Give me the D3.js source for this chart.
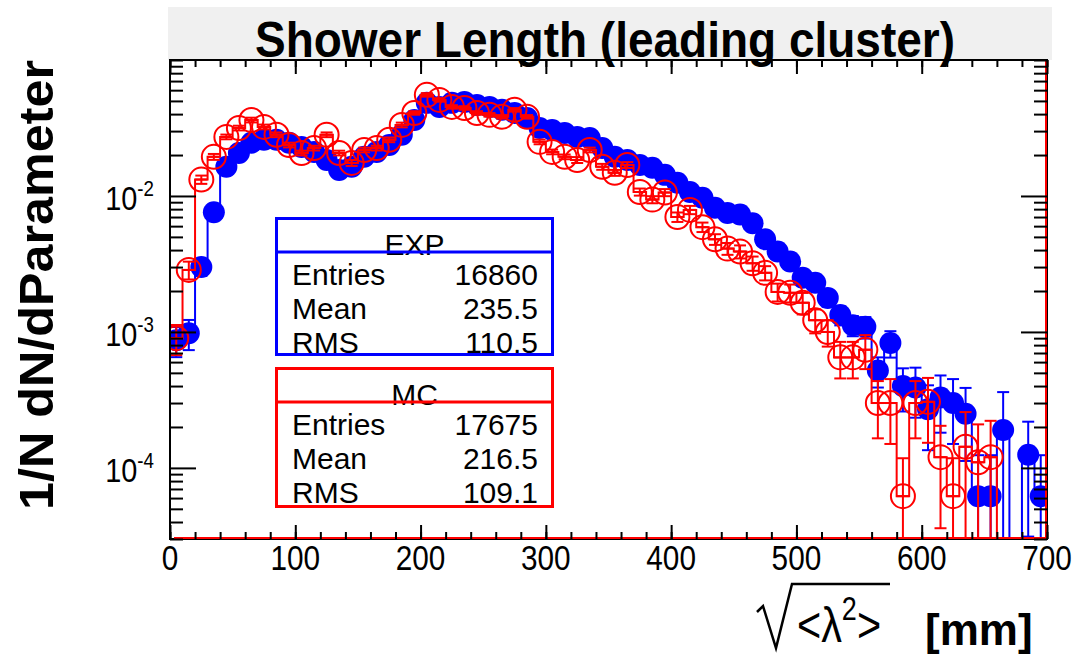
<!DOCTYPE html>
<html><head><meta charset="utf-8">
<script src="https://cdn.jsdelivr.net/npm/d3@7"></script>
<style>html,body{margin:0;padding:0;background:#fff;} svg{display:block;font-family:"Liberation Sans",Arial,Helvetica,sans-serif;}</style>
</head><body>
<svg id="c" width="1075" height="660"></svg>
<script>
// ---------- data ----------
const binCenters = [5,15,25,35,45,55,65,75,85,95,105,115,125,135,145,155,165,175,185,195,
  205,215,225,235,245,255,265,275,285,295,305,315,325,335,345,355,365,375,385,395,
  405,415,425,435,445,455,465,475,485,495,505,515,525,535,545,555,565,575,585,595,
  605,615,625,635,645,655,665,675,685,695];
const binWidth = 10;

const expValues = [8.7e-4,9.8e-4,3.0e-3,7.6e-3,1.64e-2,2.07e-2,2.46e-2,2.59e-2,2.59e-2,2.46e-2,
  2.29e-2,2.11e-2,1.84e-2,1.55e-2,1.64e-2,1.94e-2,2.11e-2,2.37e-2,2.82e-2,3.62e-2,
  4.84e-2,4.52e-2,4.84e-2,4.92e-2,4.67e-2,4.52e-2,4.30e-2,4.08e-2,3.75e-2,3.16e-2,
  3.06e-2,2.91e-2,2.72e-2,2.67e-2,2.25e-2,1.94e-2,1.84e-2,1.69e-2,1.61e-2,1.43e-2,
  1.25e-2,1.07e-2,9.7e-3,8.2e-3,7.5e-3,7.3e-3,6.3e-3,4.8e-3,3.9e-3,3.3e-3,
  2.5e-3,2.3e-3,1.78e-3,1.33e-3,1.12e-3,1.09e-3,5.2e-4,8.3e-4,4.0e-4,3.9e-4,
  2.7e-4,3.3e-4,3.0e-4,2.5e-4,6.2e-5,6.2e-5,1.9e-4,0,1.25e-4,6.2e-5];
const expRelErr = [0.25,0.25,0.14,0.09,0.05,0.05,0.04,0.04,0.04,0.04,
  0.04,0.04,0.05,0.05,0.05,0.05,0.04,0.04,0.04,0.04,
  0.03,0.03,0.03,0.03,0.03,0.03,0.03,0.04,0.04,0.04,
  0.04,0.04,0.04,0.04,0.05,0.05,0.05,0.05,0.05,0.05,
  0.06,0.06,0.06,0.07,0.07,0.07,0.08,0.09,0.10,0.10,
  0.12,0.12,0.14,0.16,0.17,0.18,0.25,0.22,0.35,0.40,
  0.50,0.45,0.50,0.55,1.00,1.00,0.90,0,0.75,1.00];

const mcValues = [9.0e-4,2.86e-3,1.32e-2,1.94e-2,2.72e-2,3.16e-2,3.62e-2,3.22e-2,2.82e-2,2.37e-2,
  2.07e-2,2.25e-2,2.82e-2,2.07e-2,1.75e-2,2.18e-2,2.25e-2,2.59e-2,3.33e-2,4.08e-2,
  5.54e-2,5.09e-2,4.52e-2,4.44e-2,4.08e-2,3.95e-2,3.82e-2,4.30e-2,3.82e-2,2.50e-2,
  2.11e-2,1.94e-2,1.84e-2,2.18e-2,1.64e-2,1.48e-2,1.69e-2,1.07e-2,9.4e-3,1.06e-2,
  7.0e-3,7.9e-3,5.9e-3,4.8e-3,4.1e-3,3.9e-3,3.2e-3,2.72e-3,1.97e-3,1.94e-3,
  1.64e-3,1.22e-3,1.0e-3,6.5e-4,6.5e-4,7.4e-4,3.0e-4,3.0e-4,6.2e-5,3.0e-4,
  3.06e-4,1.2e-4,6.2e-5,1.43e-4,1.1e-4,1.2e-4,0,0,0,0];
const mcRelErr = [0.25,0.15,0.07,0.05,0.04,0.04,0.04,0.04,0.04,0.04,
  0.04,0.04,0.04,0.04,0.05,0.04,0.04,0.04,0.04,0.03,
  0.03,0.03,0.03,0.03,0.03,0.03,0.03,0.03,0.03,0.04,
  0.04,0.04,0.05,0.04,0.05,0.05,0.05,0.06,0.06,0.06,
  0.08,0.07,0.08,0.09,0.10,0.11,0.12,0.12,0.15,0.15,
  0.18,0.20,0.22,0.30,0.30,0.28,0.45,0.50,0.90,0.45,
  0.50,0.70,0.90,0.80,0.90,0.85,0,0,0,0];

const xTickValues = [0,100,200,300,400,500,600,700];
const xMinorTicks = [0,20,40,60,80,100,120,140,160,180,200,220,240,260,280,300,320,340,360,380,
  400,420,440,460,480,500,520,540,560,580,600,620,640,660,680,700];
const yDecades = [1e-4,1e-3,1e-2];
const yDecadeExp = ["-4","-3","-2"];
const titleText = "Shower Length (leading cluster)";
const yTitle = "1/N dN/dParameter";
const expName = "EXP", mcName = "MC";
const expStats = [["Entries","16860"],["Mean","235.5"],["RMS","110.5"]];
const mcStats = [["Entries","17675"],["Mean","216.5"],["RMS","109.1"]];

// ---------- layout ----------
const L = 170, R = 1047, T = 60, B = 539;
const svg = d3.select("#c");
const x = d3.scaleLinear().domain([0,700]).range([L,R]);
const y = d3.scaleLog().domain([3e-5,0.1]).range([B,T]);
const yMin = y.domain()[0];
const BLUE = "#0000ff", RED = "#ff0000";

svg.append("rect").attr("x",0).attr("y",0).attr("width",1075).attr("height",660).attr("fill","#fff");
// title band
svg.append("rect").attr("x",168).attr("y",7).attr("width",884).attr("height",T-7).attr("fill","#f0f0f0");
svg.append("text").attr("x",605).attr("y",57).attr("text-anchor","middle")
  .attr("font-size",50).attr("font-weight","bold").attr("textLength",700).attr("lengthAdjust","spacingAndGlyphs")
  .text(titleText);

// clip
svg.append("clipPath").attr("id","plotclip").append("rect").attr("x",L).attr("y",T).attr("width",R-L).attr("height",B-T);
const plot = svg.append("g").attr("clip-path","url(#plotclip)");

function drawHist(vals, errs, color, filled){
  const g = plot.append("g");
  const pts = [];
  binCenters.forEach((c,i)=>{
    const yv = vals[i] > 0 ? y(Math.max(vals[i],yMin)) : B;
    pts.push([x(c-binWidth/2), yv],[x(c+binWidth/2), yv]);
  });
  g.append("path").attr("d", d3.line()(pts)).attr("fill","none").attr("stroke",color).attr("stroke-width",2);
  const cap = 6;
  binCenters.forEach((c,i)=>{
    const v = vals[i]; if(!(v>0)) return;
    const e = errs[i];
    const cx = x(c);
    const yh = y(v*(1+e));
    const lo = v*(1-e);
    const clamped = !(lo > yMin);
    const yl = clamped ? B : y(lo);
    g.append("line").attr("x1",cx).attr("x2",cx).attr("y1",yh).attr("y2",yl).attr("stroke",color).attr("stroke-width",2);
    g.append("line").attr("x1",cx-cap).attr("x2",cx+cap).attr("y1",yh).attr("y2",yh).attr("stroke",color).attr("stroke-width",2);
    if(!clamped) g.append("line").attr("x1",cx-cap).attr("x2",cx+cap).attr("y1",yl).attr("y2",yl).attr("stroke",color).attr("stroke-width",2);
    g.append("line").attr("x1",x(c-binWidth/2)).attr("x2",x(c+binWidth/2)).attr("y1",y(v)).attr("y2",y(v)).attr("stroke",color).attr("stroke-width",2);
  });
  binCenters.forEach((c,i)=>{
    const v = vals[i]; if(!(v>0)) return;
    if(filled) g.append("circle").attr("cx",x(c)).attr("cy",y(v)).attr("r",11).attr("fill",color);
    else g.append("circle").attr("cx",x(c)).attr("cy",y(v)).attr("r",12).attr("fill","none").attr("stroke",color).attr("stroke-width",2);
  });
}
drawHist(expValues, expRelErr, BLUE, true);
drawHist(mcValues, mcRelErr, RED, false);

// frame
svg.append("rect").attr("x",L).attr("y",T).attr("width",R-L).attr("height",B-T).attr("fill","none").attr("stroke","#000").attr("stroke-width",2);
svg.append("line").attr("x1",L+4).attr("x2",R).attr("y1",B-1).attr("y2",B-1).attr("stroke",RED).attr("stroke-width",2);
svg.append("line").attr("x1",R-1).attr("x2",R-1).attr("y1",T).attr("y2",B).attr("stroke",RED).attr("stroke-width",2);

// axes ticks (ROOT style, inward)
function styleAxis(g){ g.select(".domain").remove(); g.selectAll("line").attr("stroke","#000").attr("stroke-width",2); g.selectAll("text").remove(); }
const yMinor = y.ticks().filter(t => !yDecades.some(d => Math.abs(d-t)/d < 1e-6));
svg.append("g").attr("transform",`translate(0,${B})`).call(d3.axisBottom(x).tickValues(xTickValues).tickSize(-14).tickFormat("")).call(styleAxis);
svg.append("g").attr("transform",`translate(0,${B})`).call(d3.axisBottom(x).tickValues(xMinorTicks).tickSize(-7).tickFormat("")).call(styleAxis);
svg.append("g").attr("transform",`translate(0,${T})`).call(d3.axisTop(x).tickValues(xTickValues).tickSize(-14).tickFormat("")).call(styleAxis);
svg.append("g").attr("transform",`translate(0,${T})`).call(d3.axisTop(x).tickValues(xMinorTicks).tickSize(-7).tickFormat("")).call(styleAxis);
svg.append("g").attr("transform",`translate(${L},0)`).call(d3.axisLeft(y).tickValues(yDecades).tickSize(-26).tickFormat("")).call(styleAxis);
svg.append("g").attr("transform",`translate(${L},0)`).call(d3.axisLeft(y).tickValues(yMinor).tickSize(-13).tickFormat("")).call(styleAxis);
svg.append("g").attr("transform",`translate(${R},0)`).call(d3.axisRight(y).tickValues(yDecades).tickSize(-26).tickFormat("")).call(styleAxis);
svg.append("g").attr("transform",`translate(${R},0)`).call(d3.axisRight(y).tickValues(yMinor).tickSize(-13).tickFormat("")).call(styleAxis);

// tick labels (narrow, ROOT-like)
svg.append("g").selectAll("text").data(xTickValues).join("text")
  .attr("transform",d=>`translate(${x(d)},570) scale(0.85,1)`).attr("text-anchor","middle").attr("font-size",35).text(d=>d);
const yl = svg.append("g").selectAll("text").data(yDecades).join("text")
  .attr("transform",d=>`translate(154,${y(d)+14}) scale(0.85,1)`).attr("text-anchor","end").attr("font-size",34);
yl.append("tspan").text("10");
yl.append("tspan").attr("dy",-14).attr("font-size",22).text((d,i)=>yDecadeExp[i]);

// axis titles
svg.append("text").attr("transform","translate(53,285) rotate(-90)").attr("text-anchor","middle")
  .attr("font-size",48).attr("font-weight","bold").attr("textLength",450).attr("lengthAdjust","spacingAndGlyphs").text(yTitle);
// x title: sqrt(<lambda^2>) [mm]
svg.append("path").attr("d","M757,612 L763,606 L776,648 L792,584 L890,584").attr("fill","none").attr("stroke","#000").attr("stroke-width",2.5);
const xt = svg.append("text").attr("transform","translate(797,642) scale(0.9,1.1)").attr("font-size",46);
xt.append("tspan").text("<λ");
xt.append("tspan").attr("dy",-20).attr("font-size",30).text("2");
xt.append("tspan").attr("dy",20).text(">");
svg.append("text").attr("x",925).attr("y",645).attr("font-size",44).attr("font-weight","bold").text("[mm]");

// stats boxes
function statBox(top, h, sep, name, rows, color){
  const g = svg.append("g");
  const bx = 276.5, bw = 276;
  g.append("rect").attr("x",bx).attr("y",top).attr("width",bw).attr("height",h).attr("fill","#fff");
  g.append("text").attr("x",bx+bw/2).attr("y",sep+3).attr("text-anchor","middle").attr("font-size",30).text(name);
  rows.forEach((r,i)=>{
    const by = sep + 33 + 34*i;
    g.append("text").attr("x",292).attr("y",by).attr("font-size",30).text(r[0]);
    g.append("text").attr("x",538).attr("y",by).attr("text-anchor","end").attr("font-size",30).text(r[1]);
  });
  g.append("line").attr("x1",bx).attr("x2",bx+bw).attr("y1",sep).attr("y2",sep).attr("stroke",color).attr("stroke-width",3);
  g.append("rect").attr("x",bx).attr("y",top).attr("width",bw).attr("height",h).attr("fill","none").attr("stroke",color).attr("stroke-width",3);
}
statBox(218.5, 136, 252, expName, expStats, BLUE);
statBox(368.5, 138, 402, mcName, mcStats, RED);
</script>
</body></html>
